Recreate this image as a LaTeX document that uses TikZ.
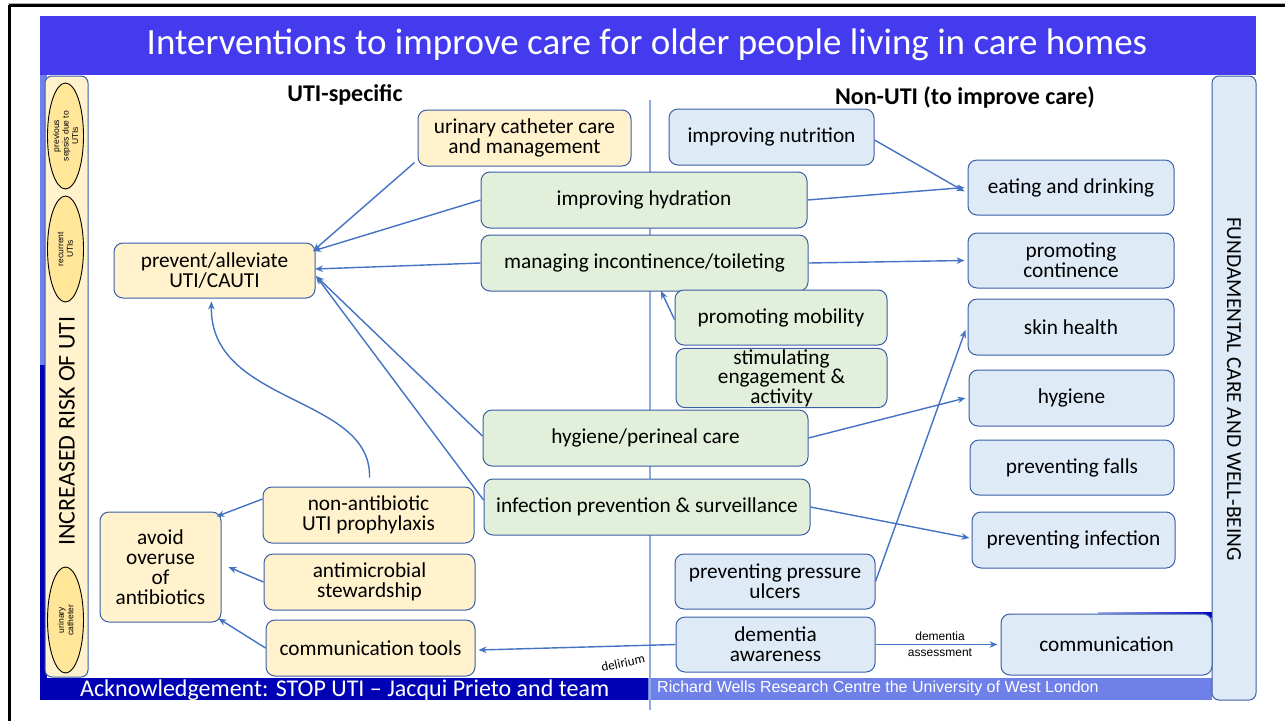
\documentclass[tikz,border=0pt]{standalone}
\usepackage{fontspec}
\setmainfont{Carlito}
\newfontfamily\arialf{Liberation Sans}
\usetikzlibrary{arrows.meta,shapes.geometric}
\definecolor{titleblue}{HTML}{443AEE}
\definecolor{darkband}{HTML}{0000B4}
\definecolor{periw}{HTML}{6F80E8}
\definecolor{yfill}{HTML}{FFF2CC}
\definecolor{gfill}{HTML}{E2EFDA}
\definecolor{bfill}{HTML}{DEEBF7}
\definecolor{edgeb}{HTML}{3B5EA6}
\definecolor{arrb}{HTML}{4472C4}
\definecolor{ellf}{HTML}{FFE699}
\definecolor{vline}{HTML}{8FAADC}
\tikzset{
  boxbase/.style={draw=edgeb, line width=1pt, rounded corners=9pt, align=center, font=\fontsize{21.3}{20}\selectfont, inner sep=1pt},
  ybox/.style={boxbase, fill=yfill},
  gbox/.style={boxbase, fill=gfill},
  bbox/.style={boxbase, fill=bfill},
  arr/.style={draw=arrb, line width=1.4pt, -{Stealth[length=8pt,width=6.5pt]}},
  riskell/.style={ellipse, draw=black, line width=0.9pt, fill=ellf, rotate=90, minimum width=106pt, minimum height=36pt, inner sep=0pt, align=center, font=\arialf\fontsize{8.5}{9.5}\selectfont},
  hdr/.style={font=\bfseries\fontsize{24}{26}\selectfont},
}
\begin{document}
\begin{tikzpicture}[x=1pt,y=-1pt]
\useasboundingbox (0,0) rectangle (1285,721);
\fill[white] (0,0) rectangle (1285,721);
% outer frame
\draw[gray!60, line width=1pt] (8,3) -- (1285,3);
\draw[black, line width=2.5pt] (9,5.5) -- (1285,5.5);
\draw[black, line width=2.5pt] (9.5,5) -- (9.5,721);
% title band
\fill[titleblue] (40,16) rectangle (1256,75);
\node[text=white, font=\fontsize{37}{40}\selectfont] (title) at (647,45) {Interventions to improve care for older people living in care homes};
% left strips
\fill[periw] (40,75) rectangle (47,365);
\fill[darkband] (40,365) rectangle (47,678);
% bottom bands
\fill[darkband] (40,678) rectangle (648,700);
\fill[periw] (648,678) rectangle (1212,700);
\node[anchor=west, text=white, font=\fontsize{24}{26}\selectfont, inner sep=0pt] (ack) at (80,690) {Acknowledgement: STOP UTI -- Jacqui Prieto and team};
\node[anchor=west, text=white, font=\arialf\fontsize{16}{18}\selectfont, inner sep=0pt] (rw) at (657,688) {Richard Wells Research Centre the University of West London};
% small blue bar
\shade[left color=periw!60, right color=darkband!80!blue] (1098,612) rectangle (1212,617);
% vertical divider
\draw[vline, line width=1.2pt] (650,100) -- (650,710);
% headers
\node[hdr] (h1) at (345,95) {UTI-specific};
\node[hdr] (h2) at (965,97) {Non-UTI (to improve care)};
% left sidebar
\draw[draw=edgeb, line width=1pt, fill=yfill, rounded corners=7pt] (45,76) rectangle (88,677);
\node[rotate=90, font=\fontsize{24}{26}\selectfont] (risk) at (67,431) {INCREASED RISK OF UTI};
\node[riskell] (e1) at (65.5,136) {previous\\sepsis due to\\UTIs};
\node[riskell] (e2) at (65.5,249) {recurrent\\UTIs};
\node[riskell] (e3) at (65.5,620) {urinary\\catheter};
% right sidebar
\draw[draw=edgeb, line width=1pt, fill=bfill, rounded corners=7pt] (1212,76) rectangle (1256,700);
\node[rotate=-90, font=\fontsize{21.4}{23}\selectfont] (fund) at (1234,389) {FUNDAMENTAL CARE AND WELL-BEING};
% UTI-specific nodes
\node[ybox, minimum width=213pt, minimum height=56pt] (ucc) at (524.5,138) {urinary catheter care\\and management};
\node[ybox, minimum width=201pt, minimum height=55pt] (prev) at (214.5,270.5) {prevent/alleviate\\UTI/CAUTI};
\node[gbox, minimum width=326pt, minimum height=56pt] (hyd) at (644,200) {improving hydration};
\node[gbox, minimum width=327pt, minimum height=56pt] (inc) at (644.5,263) {managing incontinence/toileting};
\node[gbox, minimum width=212pt, minimum height=55pt] (mob) at (781,317.5) {promoting mobility};
\node[gbox, minimum width=211pt, minimum height=56pt, font=\fontsize{21.3}{19.5}\selectfont] (stim) at (781.5,378) {stimulating\\engagement \&\\activity};
\node[gbox, minimum width=325pt, minimum height=56pt] (hpc) at (645.5,438) {hygiene/perineal care};
\node[gbox, minimum width=326pt, minimum height=56pt] (ips) at (647,507) {infection prevention \& surveillance};
\node[ybox, minimum width=211pt, minimum height=56pt] (nap) at (368.5,515) {non-antibiotic\\UTI prophylaxis};
\node[ybox, minimum width=121pt, minimum height=110pt] (avoid) at (160.5,567) {avoid\\overuse\\of\\antibiotics};
\node[ybox, minimum width=211pt, minimum height=56pt] (ams) at (369.5,582) {antimicrobial\\stewardship};
\node[ybox, minimum width=209pt, minimum height=56pt] (ctools) at (370.5,648) {communication tools};
% Non-UTI nodes
\node[bbox, minimum width=205pt, minimum height=56pt] (nut) at (771.5,137) {improving nutrition};
\node[bbox, minimum width=206pt, minimum height=55pt] (eat) at (1071,187.5) {eating and drinking};
\node[bbox, minimum width=206pt, minimum height=55pt] (cont) at (1071,260.5) {promoting\\continence};
\node[bbox, minimum width=206pt, minimum height=56pt] (skin) at (1071,327) {skin health};
\node[bbox, minimum width=205pt, minimum height=56pt] (hyg) at (1071.5,398) {hygiene};
\node[bbox, minimum width=204pt, minimum height=55pt] (falls) at (1072,467.5) {preventing falls};
\node[bbox, minimum width=203pt, minimum height=56pt] (pinf) at (1073.5,540) {preventing infection};
\node[bbox, minimum width=200pt, minimum height=55pt] (pu) at (775,581.5) {preventing pressure\\ulcers};
\node[bbox, minimum width=199pt, minimum height=55pt] (dem) at (775.5,644.5) {dementia\\awareness};
\node[bbox, minimum width=211pt, minimum height=61pt] (comm) at (1106.5,644.5) {communication};
% labels
\node[rotate=12, inner sep=0pt, font=\fontsize{13}{14}\selectfont] (delir) at (623,663) {delirium};
\node[font=\arialf\fontsize{12}{13}\selectfont] (da1) at (940,636) {dementia};
\node[font=\arialf\fontsize{12}{13}\selectfont] (da2) at (940,653) {assessment};
% arrows to prevent
\coordinate (pTR) at (313,251);
\coordinate (pR) at (315,269);
\coordinate (pR2) at (316,276);
\coordinate (incB) at (661,291);
\draw[arr] ([xshift=-3pt,yshift=4pt]ucc.south west) -- (pTR);
\draw[arr] (hyd.west) -- (pTR);
\draw[arr] (inc.west) -- (pR);
\draw[arr] ([yshift=2pt]hpc.west) -- (pR2);
\draw[arr] ([yshift=7pt]ips.west) -- (pR2);
\draw[arr] ([xshift=1pt,yshift=9pt]nap.north) .. controls (372,395) and (209,405) .. ([xshift=-3pt,yshift=-3pt]prev.south);
% arrows to avoid
\draw[arr] ([yshift=16pt]nap.west) -- ([xshift=-5pt,yshift=-5pt]avoid.north east);
\draw[arr] (ams.west) -- ([xshift=7pt]avoid.east);
\draw[arr] (ctools.west) -- ([xshift=-3pt,yshift=4pt]avoid.south east);
% non-UTI arrows
\draw[arr] ([yshift=-3pt]nut.east) -- ([xshift=-3pt,yshift=-4pt]eat.west);
\draw[arr] (hyd.east) -- ([xshift=-3pt]eat.west);
\draw[arr] (inc.east) -- ([xshift=-3pt]cont.west);
\draw[arr] ([yshift=-2pt]mob.west) -- (incB);
\draw[arr] (hpc.east) -- ([xshift=-3pt]hyg.west);
\draw[arr] (ips.east) -- ([xshift=-2pt,yshift=2pt]pinf.west);
\draw[arr] (pu.east) -- ([xshift=-2pt,yshift=-3pt]skin.west);
\draw[arr] (dem.west) -- ([xshift=3pt,yshift=-2pt]ctools.east);
\draw[arr] (dem.east) -- ([xshift=-3pt]comm.west);
\end{tikzpicture}
\end{document}
